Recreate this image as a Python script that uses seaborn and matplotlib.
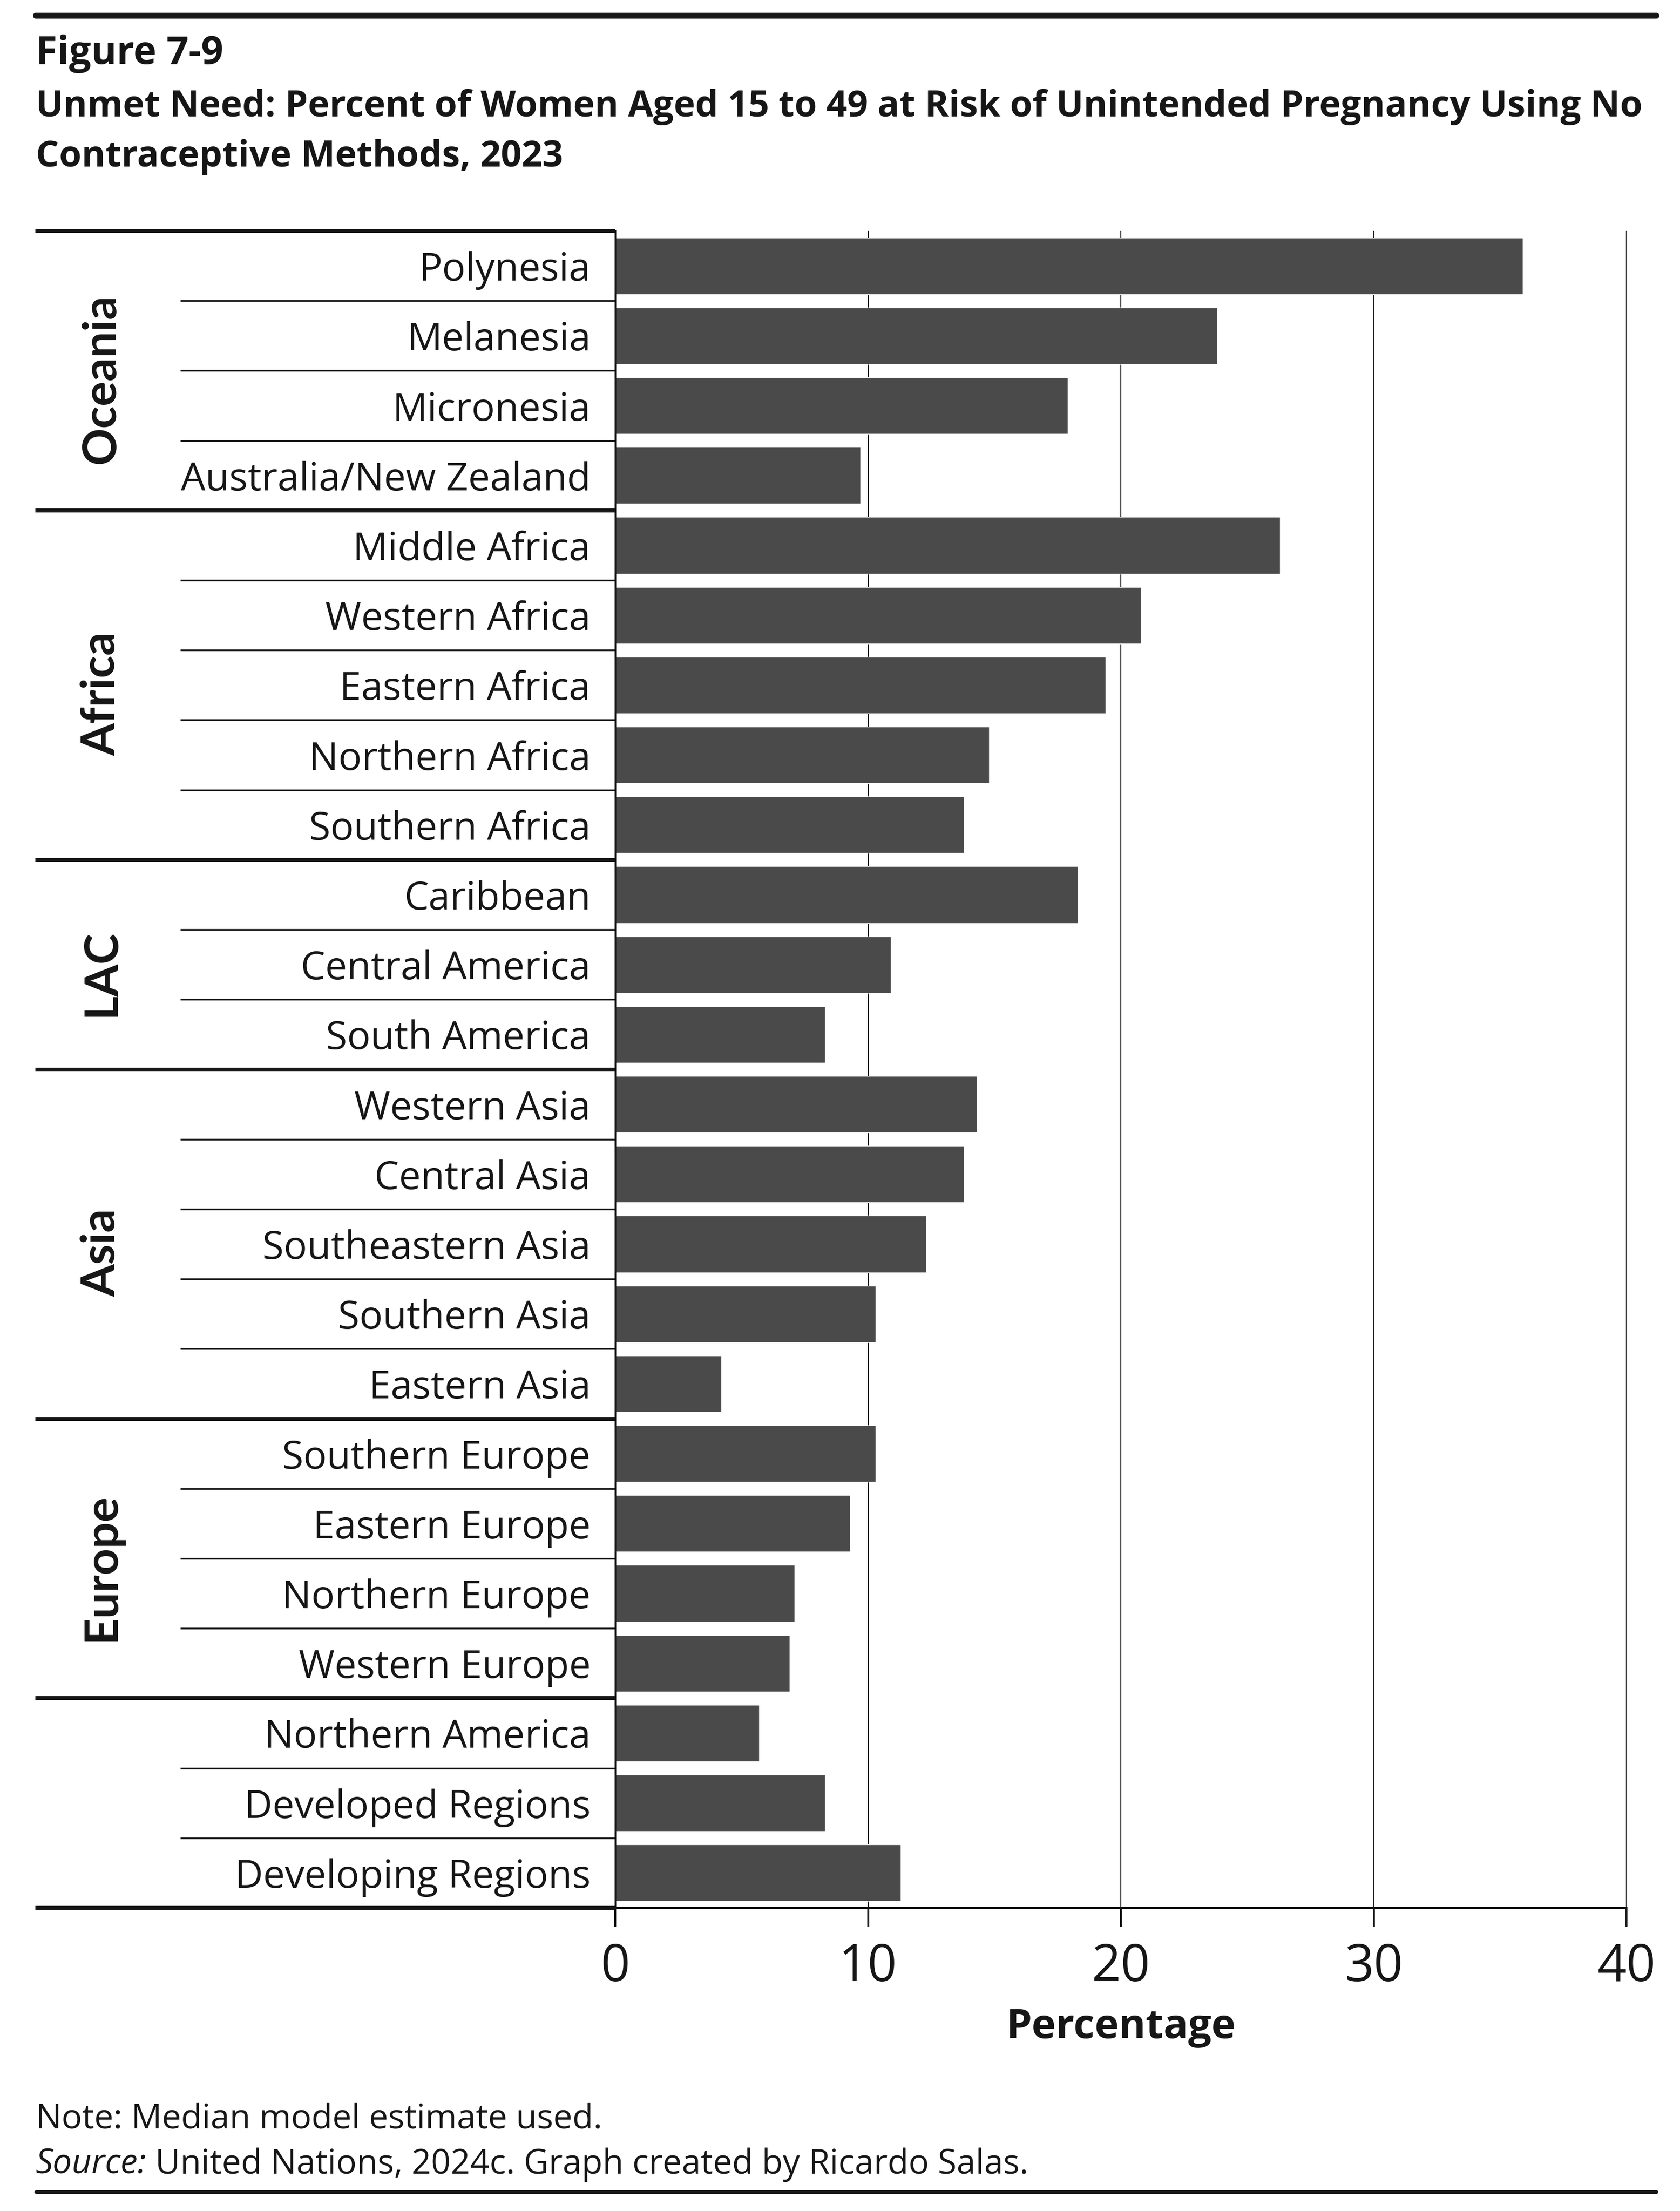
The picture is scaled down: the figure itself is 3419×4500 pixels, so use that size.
import numpy as np
import pandas as pd
import seaborn as sns
import matplotlib
matplotlib.use('Agg')
import matplotlib.pyplot as plt
import matplotlib.transforms as mtransforms
from matplotlib.lines import Line2D

# data (percent of women 15-49 with unmet need, 2023)
regions = ['Polynesia', 'Melanesia', 'Micronesia', 'Australia/New Zealand',
           'Middle Africa', 'Western Africa', 'Eastern Africa', 'Northern Africa',
           'Southern Africa',
           'Caribbean', 'Central America', 'South America',
           'Western Asia', 'Central Asia', 'Southeastern Asia', 'Southern Asia',
           'Eastern Asia',
           'Southern Europe', 'Eastern Europe', 'Northern Europe', 'Western Europe',
           'Northern America', 'Developed Regions', 'Developing Regions']
unmet_need = [35.9, 23.8, 17.9, 9.7,
              26.3, 20.8, 19.4, 14.8, 13.8,
              18.3, 10.9, 8.3,
              14.3, 13.8, 12.3, 10.3, 4.2,
              10.3, 9.3, 7.1, 6.9,
              5.7, 8.3, 11.3]
group_names = ['Oceania', 'Africa', 'LAC', 'Asia', 'Europe', '']
group_sizes = [4, 5, 3, 5, 4, 3]
x_ticks = [0, 10, 20, 30, 40]

df = pd.DataFrame({'region': regions, 'pct': unmet_need})

sns.set_style('white')
plt.rcParams['font.family'] = ['Open Sans', 'DejaVu Sans']
ink = '#161616'

W, H = 3419, 4500
fig = plt.figure(figsize=(W / 100, H / 100), dpi=100)


def fx(px):
    return px / W


def fy(py):
    return 1 - py / H


# plot area in pixels: x 1252..3310, y 470..3883
ax = fig.add_axes([fx(1252), fy(3883), fx(3310) - fx(1252), fy(470) - fy(3883)])

sns.barplot(data=df, x='pct', y='region', orient='h', color='#4a4a4a',
            saturation=1, width=0.81, ax=ax)

ax.set_xlim(0, 40)
ax.set_ylim(len(regions) - 0.5, -0.5)
ax.set_xticks(x_ticks)
ax.set_xlabel('')
ax.set_ylabel('')
ax.set_axisbelow(True)
ax.xaxis.grid(True, color=ink, linewidth=1.5)
ax.yaxis.grid(False)

ax.tick_params(axis='x', bottom=True, length=28, width=2.9, pad=22,
               labelsize=75, color=ink, labelcolor=ink, direction='out')
ax.tick_params(axis='y', left=False, length=0, pad=36, labelsize=57,
               labelcolor=ink)

for s in ['top', 'right']:
    ax.spines[s].set_visible(False)
ax.spines['left'].set_linewidth(2.5)
ax.spines['left'].set_color(ink)
ax.spines['bottom'].set_linewidth(2.9)
ax.spines['bottom'].set_color(ink)

# separators on the label side
trans = mtransforms.blended_transform_factory(ax.transAxes, ax.transData)
bounds = np.cumsum([0] + group_sizes) - 0.5
for b in bounds:
    ax.plot([-0.5734, 0], [b, b], transform=trans, color=ink, lw=5.8,
            clip_on=False, solid_capstyle='butt')
for i in range(len(regions) - 1):
    if (i + 0.5) not in bounds:
        ax.plot([-0.430, 0], [i + 0.5, i + 0.5], transform=trans, color=ink,
                lw=2.5, clip_on=False, solid_capstyle='butt')

# group labels
start = 0
for name, n in zip(group_names, group_sizes):
    if name:
        ax.text(-0.508, start + (n - 1) / 2 + 0.12, name, transform=trans,
                rotation=90, ha='center', va='center', fontsize=68,
                fontweight='bold', family=['Lato', 'DejaVu Sans'], color=ink)
    start += n

# header
fig.add_artist(Line2D([fx(73), fx(3371)], [fy(32), fy(32)],
                      transform=fig.transFigure, color=ink, lw=8.6))
fig.text(fx(73), fy(130), 'Figure 7-9', fontsize=57, fontweight='bold',
         va='baseline', ha='left', color=ink)
fig.text(fx(73), fy(237),
         'Unmet Need: Percent of Women Aged 15 to 49 at Risk of Unintended Pregnancy Using No',
         fontsize=53.3, fontweight='bold', va='baseline', ha='left', color=ink)
fig.text(fx(73), fy(339), 'Contraceptive Methods, 2023',
         fontsize=53.3, fontweight='bold', va='baseline', ha='left', color=ink)

# axis title
fig.text(fx((1252 + 3310) / 2), fy(4148), 'Percentage', fontsize=60,
         fontweight='bold', va='baseline', ha='center', color=ink)

# footer
fig.text(fx(73), fy(4332), 'Note: Median model estimate used.', fontsize=50,
         va='baseline', ha='left', color=ink)
src = fig.text(fx(73), fy(4424), 'Source:', fontsize=50, style='italic',
               va='baseline', ha='left', color=ink)
plt.annotate(' United Nations, 2024c. Graph created by Ricardo Salas.',
             xy=(1, 0), xycoords=src, va='bottom', ha='left', fontsize=50,
             color=ink, annotation_clip=False)
fig.add_artist(Line2D([fx(73), fx(3371)], [fy(4461), fy(4461)],
                      transform=fig.transFigure, color=ink, lw=5))

fig.savefig('out.png', dpi=100)
